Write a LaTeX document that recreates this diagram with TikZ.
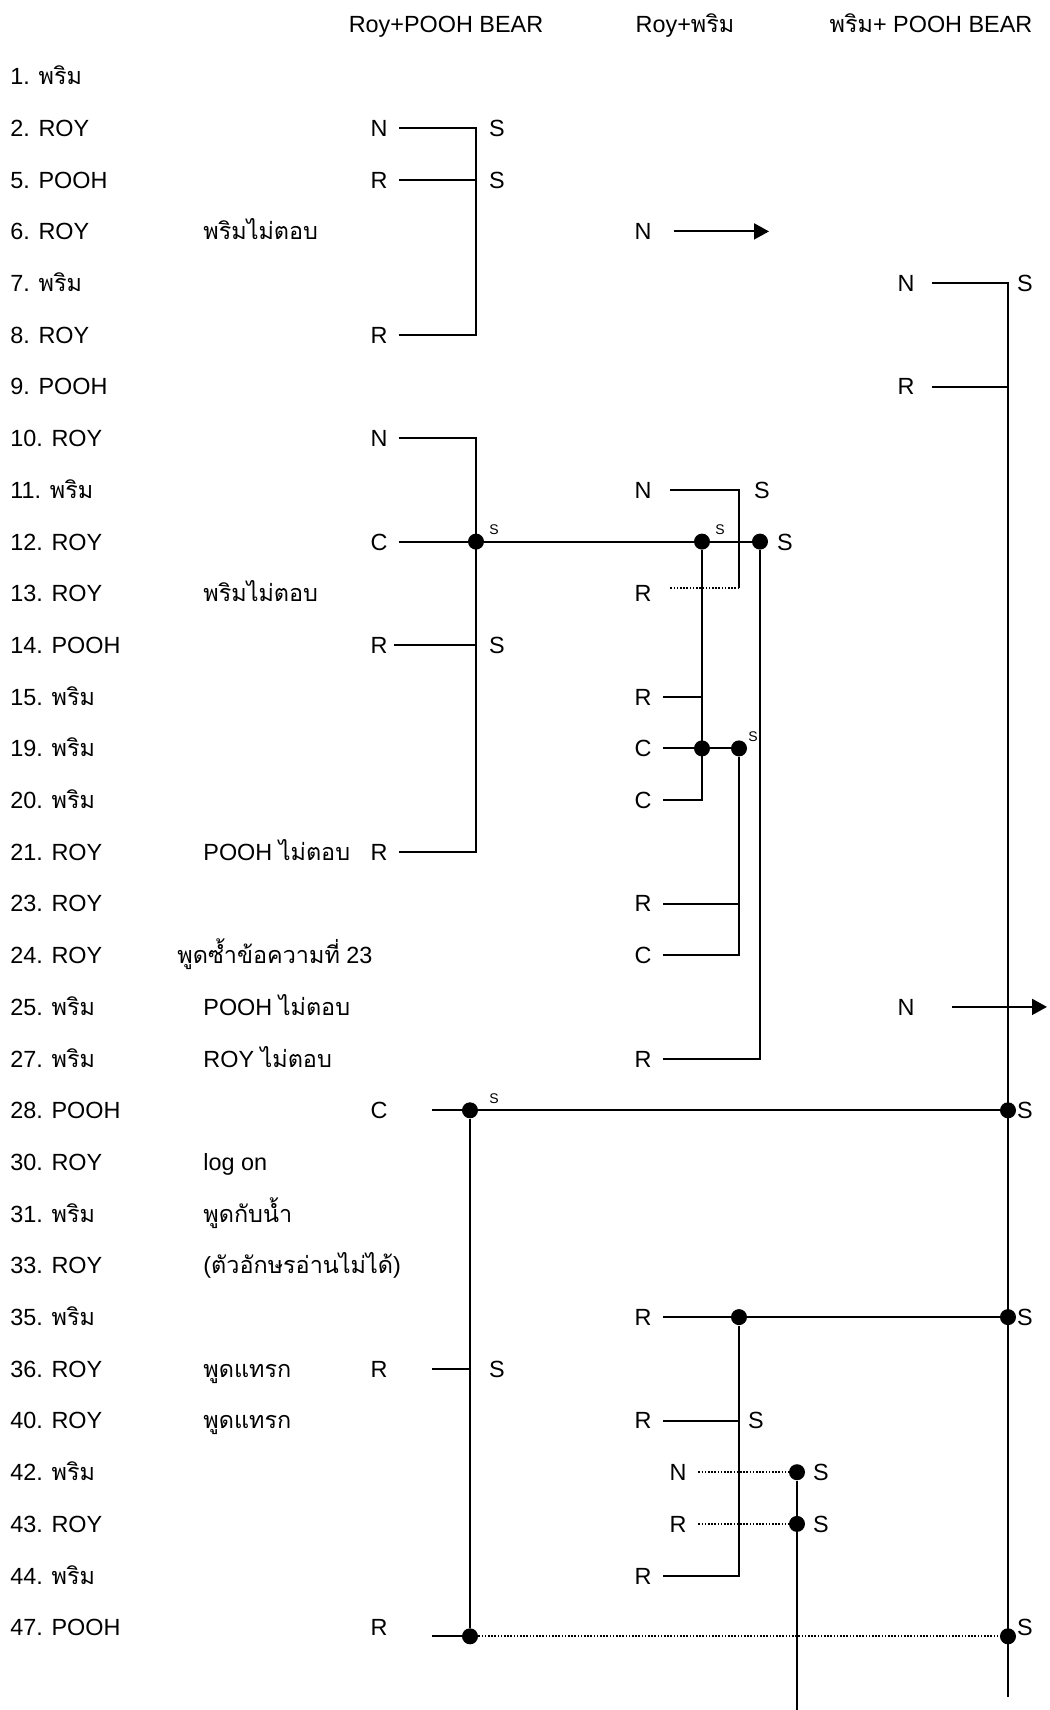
\documentclass[tikz,border=0pt]{standalone}
\usepackage{fontspec}
\setmainfont{Liberation Sans}
\newfontfamily\thaifont[Script=Thai]{Loma}
\newcommand\tf[1]{{\thaifont #1}}
\usepackage{tikz}
\usetikzlibrary{arrows.meta,calc}

\begin{document}
\begin{tikzpicture}[x=0.5pt,y=-0.5pt,
			every node/.style={font=\fontsize{11.7}{14}\selectfont},
			turnlbl/.style={anchor=west,inner sep=0,text height=8.4pt,text depth=0pt},
			actlbl/.style={inner xsep=5.75pt,inner ysep=0,text height=8.4pt,text depth=0pt},
			stag/.style={inner sep=0,font=\fontsize{7}{8}\selectfont},
			jdot/.style={circle,fill=black,inner sep=0,minimum size=8pt},
			link/.style={line width=1pt},
			weak/.style={line width=0.9pt,dash pattern=on 0.8pt off 0.8pt},
			golink/.style={link,-{Triangle[length=7.5pt,width=8pt]}}
			]
			\useasboundingbox (0,0) rectangle (1050,1710);
			\node[actlbl] (h1) at (446,24) {Roy+POOH BEAR};
			\node[actlbl] (h2) at (685,24) {Roy+\tf{พริม}};
			\node[actlbl] (h3) at (931,24) {\tf{พริม}+ POOH BEAR};
			\node[turnlbl] (t1) at (10,76.3) {1. \tf{พริม}};
			\node[turnlbl] (t2) at (10,128) {2. ROY};
			\node[turnlbl] (t5) at (10,179.7) {5. POOH};
			\node[turnlbl] (t6) at (10,231.4) {6. ROY};
			\node[turnlbl] (t7) at (10,283.1) {7. \tf{พริม}};
			\node[turnlbl] (t8) at (10,334.8) {8. ROY};
			\node[turnlbl] (t9) at (10,386.5) {9. POOH};
			\node[turnlbl] (t10) at (10,438.2) {10. ROY};
			\node[turnlbl] (t11) at (10,489.9) {11. \tf{พริม}};
			\node[turnlbl] (t12) at (10,541.6) {12. ROY};
			\node[turnlbl] (t13) at (10,593.3) {13. ROY};
			\node[turnlbl] (t14) at (10,645) {14. POOH};
			\node[turnlbl] (t15) at (10,696.7) {15. \tf{พริม}};
			\node[turnlbl] (t19) at (10,748.4) {19. \tf{พริม}};
			\node[turnlbl] (t20) at (10,800.1) {20. \tf{พริม}};
			\node[turnlbl] (t21) at (10,851.8) {21. ROY};
			\node[turnlbl] (t23) at (10,903.5) {23. ROY};
			\node[turnlbl] (t24) at (10,955.2) {24. ROY};
			\node[turnlbl] (t25) at (10,1006.9) {25. \tf{พริม}};
			\node[turnlbl] (t27) at (10,1058.6) {27. \tf{พริม}};
			\node[turnlbl] (t28) at (10,1110.3) {28. POOH};
			\node[turnlbl] (t30) at (10,1162) {30. ROY};
			\node[turnlbl] (t31) at (10,1213.7) {31. \tf{พริม}};
			\node[turnlbl] (t33) at (10,1265.4) {33. ROY};
			\node[turnlbl] (t35) at (10,1317.1) {35. \tf{พริม}};
			\node[turnlbl] (t36) at (10,1368.8) {36. ROY};
			\node[turnlbl] (t40) at (10,1420.5) {40. ROY};
			\node[turnlbl] (t42) at (10,1472.2) {42. \tf{พริม}};
			\node[turnlbl] (t43) at (10,1523.9) {43. ROY};
			\node[turnlbl] (t44) at (10,1575.6) {44. \tf{พริม}};
			\node[turnlbl] (t47) at (10,1627.3) {47. POOH};
			\node[turnlbl] (m6) at (203,231.4) {\tf{พริมไม่ตอบ}};
			\node[turnlbl] (m13) at (203,593.3) {\tf{พริมไม่ตอบ}};
			\node[turnlbl] (m21) at (203,851.8) {POOH \tf{ไม่ตอบ}};
			\node[turnlbl] (m24) at (177,955.2) {\tf{พูดซ้ำข้อความที่} 23};
			\node[turnlbl] (m25) at (203,1006.9) {POOH \tf{ไม่ตอบ}};
			\node[turnlbl] (m27) at (203,1058.6) {ROY \tf{ไม่ตอบ}};
			\node[turnlbl] (m30) at (203,1162) {log on};
			\node[turnlbl] (m31) at (203,1213.7) {\tf{พูดกับน้ำ}};
			\node[turnlbl] (m33) at (203,1265.4) {(\tf{ตัวอักษรอ่านไม่ได้})};
			\node[turnlbl] (m36) at (203,1368.8) {\tf{พูดแทรก}};
			\node[turnlbl] (m40) at (203,1420.5) {\tf{พูดแทรก}};
			\node[actlbl] (pa2) at (379,128) {N};
			\node[actlbl] (pa5) at (379,179.7) {R};
			\node[actlbl] (pa8) at (379,334.8) {R};
			\node[actlbl] (pa10) at (379,438.2) {N};
			\node[actlbl] (pa12) at (379,541.6) {C};
			\node[actlbl] (pa14) at (379,645) {R};
			\node[actlbl] (pa21) at (379,851.8) {R};
			\node[actlbl] (pa28) at (379,1110.3) {C};
			\node[actlbl] (pa36) at (379,1368.8) {R};
			\node[actlbl] (pa47) at (379,1627.3) {R};
			\node[actlbl] (pb6) at (643,231.4) {N};
			\node[actlbl] (pb11) at (643,489.9) {N};
			\node[actlbl] (pb13) at (643,593.3) {R};
			\node[actlbl] (pb15) at (643,696.7) {R};
			\node[actlbl] (pb19) at (643,748.4) {C};
			\node[actlbl] (pb20) at (643,800.1) {C};
			\node[actlbl] (pb23) at (643,903.5) {R};
			\node[actlbl] (pb24) at (643,955.2) {C};
			\node[actlbl] (pb27) at (643,1058.6) {R};
			\node[actlbl] (pb35) at (643,1317.1) {R};
			\node[actlbl] (pb40) at (643,1420.5) {R};
			\node[actlbl] (pb42) at (678,1472.2) {N};
			\node[actlbl] (pb43) at (678,1523.9) {R};
			\node[actlbl] (pb44) at (643,1575.6) {R};
			\node[actlbl] (pc7) at (906,283.1) {N};
			\node[actlbl] (pc9) at (906,386.5) {R};
			\node[actlbl] (pc25) at (906,1006.9) {N};
			\node[actlbl] (sa2) at (497,128) {S};
			\node[actlbl] (sa5) at (497,179.7) {S};
			\node[actlbl] (sa14) at (497,645) {S};
			\node[actlbl] (sa36) at (497,1368.8) {S};
			\node[actlbl] (sb11) at (762,489.9) {S};
			\node[actlbl] (sb12) at (785,541.6) {S};
			\node[actlbl] (sb40) at (756,1420.5) {S};
			\node[actlbl] (sb42) at (821,1472.2) {S};
			\node[actlbl] (sb43) at (821,1523.9) {S};
			\node[actlbl] (sc7) at (1025,283.1) {S};
			\node[actlbl] (sc28) at (1025,1110.3) {S};
			\node[actlbl] (sc35) at (1025,1317.1) {S};
			\node[actlbl] (sc47) at (1025,1627.3) {S};
			\node[stag] (ka12) at (494,530) {S};
			\node[stag] (kb12) at (720,530) {S};
			\node[stag] (kb19) at (753,737) {S};
			\node[stag] (ka28) at (494,1099) {S};
			\coordinate (ba) at (476,0);
			\coordinate (bb) at (702,0);
			\coordinate (bc) at (739,0);
			\coordinate (bd) at (760,0);
			\coordinate (be) at (1008,0);
			\coordinate (bf) at (470,0);
			\coordinate (bg) at (797,0);
			\coordinate (ab6) at (769,231.4);
			\coordinate (ac25) at (1047,1006.9);
			\coordinate (endc) at (1008,1697);
			\coordinate (endg) at (797,1710);
			\node[jdot] (ja12) at (pa12 -| ba) {};
			\node[jdot] (jb12) at (pa12 -| bb) {};
			\node[jdot] (jd12) at (pa12 -| bd) {};
			\node[jdot] (jb19) at (pb19 -| bb) {};
			\node[jdot] (jc19) at (pb19 -| bc) {};
			\node[jdot] (ja28) at (pa28 -| bf) {};
			\node[jdot] (je28) at (pa28 -| be) {};
			\node[jdot] (jc35) at (pb35 -| bc) {};
			\node[jdot] (je35) at (pb35 -| be) {};
			\node[jdot] (jg42) at (pb42 -| bg) {};
			\node[jdot] (jg43) at (pb43 -| bg) {};
			\node[jdot] (jf47) at ($(pa47 -| bf)+(0,9)$) {};
			\node[jdot] (je47) at ($(pa47 -| be)+(0,9)$) {};
			\draw[link] (pa2.east) -- (pa2.east -| ba) -- (pa8.east -| ba) -- (pa8.east);
			\draw[link] (pa5.east) -- (pa5.east -| ba);
			\draw[link] (pa10.east) -- (pa10.east -| ba) -- (pa21.east -| ba) -- (pa21.east);
			\draw[link,shorten <=-2.5pt] (pa14.east) -- (pa14.east -| ba);
			\draw[link] (pa12.east) -- (ja12) -- (jb12) -- (jd12);
			\draw[golink,shorten <=5.5pt] (pb6.east) -- (ab6);
			\draw[link,shorten <=3.5pt] (pb11.east) -- (pb11.east -| bc) -- ($(pb13.east -| bc)+(0,-5)$);
			\draw[weak,shorten <=3.5pt] ($(pb13.east)+(0,-5)$) -- ($(pb13.east -| bc)+(0,-5)$);
			\draw[link] (jb12) -- (pb20.east -| bb) -- (pb20.east);
			\draw[link] (pb15.east) -- (pb15.east -| bb);
			\draw[link] (pb19.east) -- (jb19) -- (jc19);
			\draw[link] (jc19) -- (pb24.east -| bc) -- (pb24.east);
			\draw[link] (pb23.east) -- (pb23.east -| bc);
			\draw[link] (jd12) -- (pb27.east -| bd) -- (pb27.east);
			\draw[link,shorten <=3pt] (pc7.east) -- (pc7.east -| be) -- (endc);
			\draw[link,shorten <=3pt] (pc9.east) -- (pc9.east -| be);
			\draw[golink,shorten <=13pt] (pc25.east) -- (ac25);
			\draw[link,shorten <=16.5pt] (pa28.east) -- (ja28);
			\draw[link] (ja28) -- (je28);
			\draw[link] (pb35.east) -- (jc35) -- (je35);
			\draw[link] (jc35) -- (pb44.east -| bc) -- (pb44.east);
			\draw[link] (pb40.east) -- (pb40.east -| bc);
			\draw[link,shorten <=16.5pt] (pa36.east) -- (pa36.east -| bf);
			\draw[weak] (pb42.east) -- (jg42);
			\draw[weak] (pb43.east) -- (jg43);
			\draw[link] (jg42) -- (endg);
			\draw[link,shorten <=16.5pt] ($(pa47.east)+(0,9)$) -- (jf47);
			\draw[weak] (jf47) -- (je47);
			\draw[link] (ja28) -- (jf47);
		\end{tikzpicture}
\end{document}
